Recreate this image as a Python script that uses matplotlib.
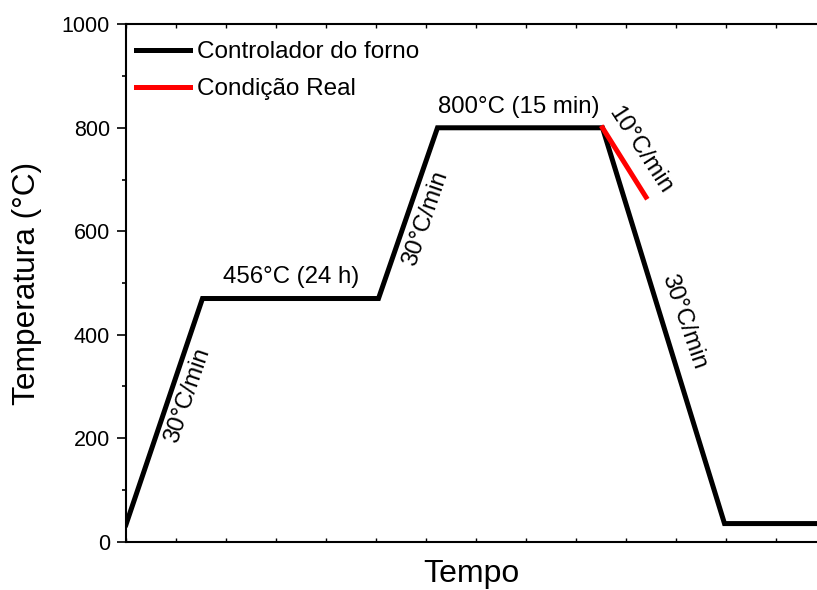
import matplotlib
matplotlib.use("Agg")
import matplotlib.pyplot as plt
from matplotlib.ticker import MultipleLocator, NullFormatter

plt.rcParams['font.family'] = ['Liberation Sans', 'DejaVu Sans']

# furnace program (time in arbitrary units, temperature in °C)
tempo_forno = [0.0, 1.53, 5.05, 6.23, 9.53, 11.97, 14.0]
temp_forno = [33, 470, 470, 800, 800, 35, 35]

# real cooling condition
tempo_real = [9.53, 10.40]
temp_real = [800, 666]

# annotations: text, x, y, rotation
notas = [
    ("30°C/min", 1.24, 283, 71),
    ("456°C (24 h)", 3.31, 512, 0),
    ("30°C/min", 6.00, 624, 71),
    ("800°C (15 min)", 7.86, 841, 0),
    ("10°C/min", 10.28, 757, -57),
    ("30°C/min", 11.15, 425, -71),
]

fig = plt.figure(figsize=(8.17, 5.90), dpi=100)
ax = fig.add_axes([0.1542, 0.0819, 0.8458, 0.8769])

ax.plot(tempo_forno, temp_forno, color='black', linewidth=3.6,
        solid_joinstyle='miter', label='Controlador do forno')
ax.plot(tempo_real, temp_real, color='red', linewidth=3.6,
        label='Condição Real')

for txt, x, y, rot in notas:
    ax.text(x, y, txt, fontsize=17.3, rotation=rot, ha='center', va='center',
            rotation_mode='anchor')

ax.set_xlim(0, 13.82)
ax.set_ylim(0, 1000)

ax.spines['right'].set_visible(False)
for s in ['left', 'bottom', 'top']:
    ax.spines[s].set_linewidth(1.5)

ax.yaxis.set_major_locator(MultipleLocator(200))
ax.yaxis.set_minor_locator(MultipleLocator(100))
ax.tick_params(axis='y', which='major', direction='out', length=6.5, width=1.2,
               labelsize=15.5, pad=5)
ax.tick_params(axis='y', which='minor', direction='out', length=3, width=1.2)

ax.xaxis.set_major_locator(MultipleLocator(1))
ax.xaxis.set_major_formatter(NullFormatter())
ax.tick_params(axis='x', which='major', direction='in', length=3, width=1.0,
               top=True, bottom=True)

ax.set_ylabel('Temperatura (°C)', fontsize=22.8, labelpad=14)
ax.set_xlabel('Tempo', fontsize=23, labelpad=9)

ax.legend(loc='upper left', bbox_to_anchor=(-0.01, 1.0), frameon=False,
          fontsize=17.5, handlelength=2.2, handletextpad=0.3,
          labelspacing=0.62, borderaxespad=0.3)

fig.savefig('out.png', dpi=100)
